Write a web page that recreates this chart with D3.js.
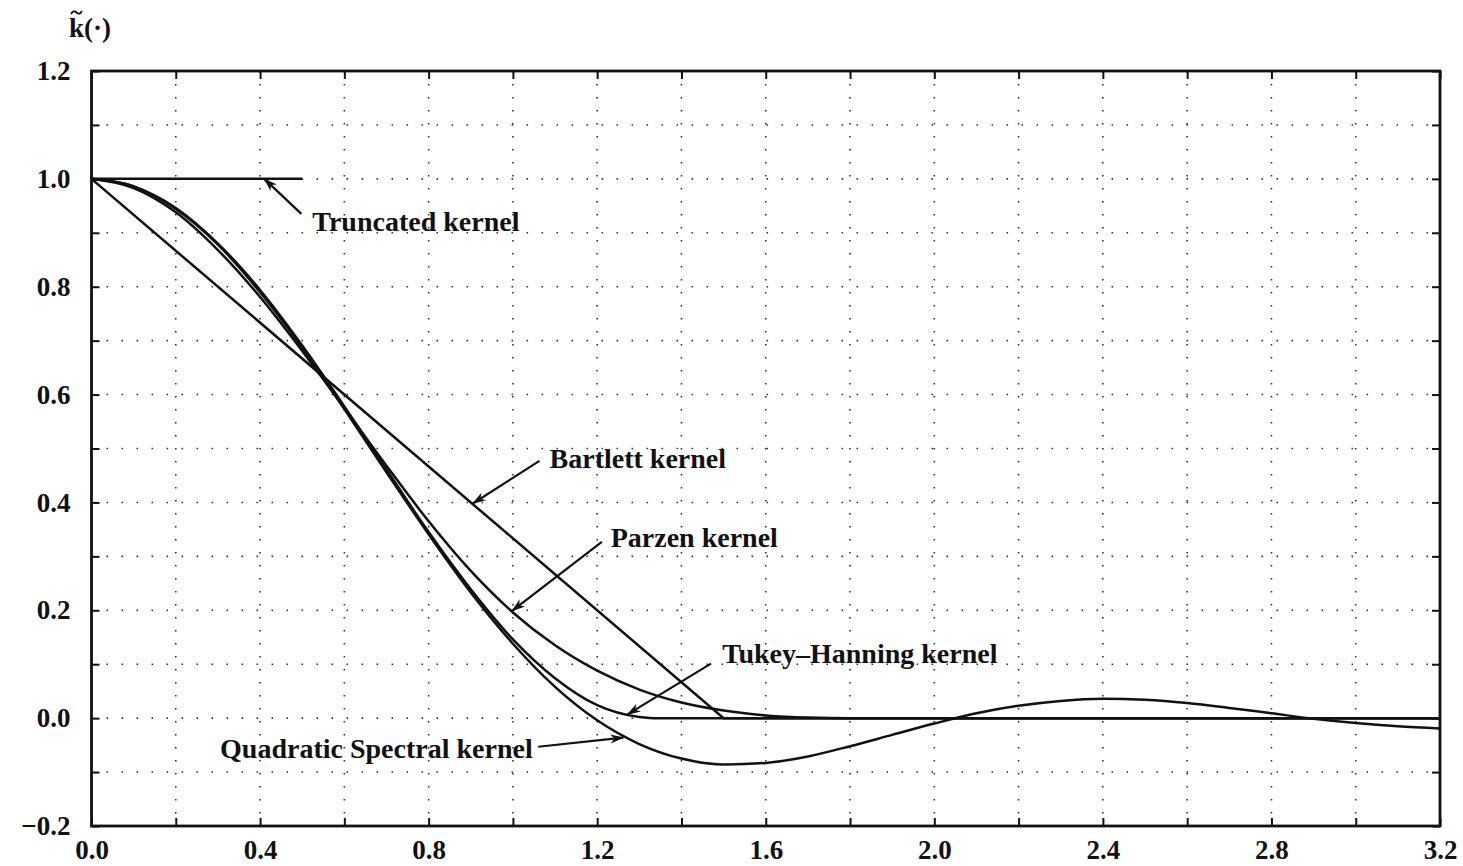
<!DOCTYPE html>
<html>
<head>
<meta charset="utf-8">
<script src="https://cdn.jsdelivr.net/npm/d3@7/dist/d3.min.js"></script>
<style>
body{margin:0;background:#fff;}
text{font-family:"Liberation Serif","Times New Roman",serif;font-weight:bold;fill:#111;}
</style>
</head>
<body>
<svg></svg>
<script>
// values
var qsX=[0,0.1,0.2,0.3,0.4,0.5,0.6,0.7,0.8,0.9,1.0,1.1,1.2,1.3,1.4,1.5,1.6,1.7,1.8,1.9,2.0,2.1,2.2,2.3,2.4,2.5,2.6,2.7,2.8,2.9,3.0,3.1,3.2];
var qsY=[1,0.986,0.944,0.878,0.790,0.687,0.573,0.456,0.341,0.233,0.138,0.058,-0.004,-0.048,-0.075,-0.086,-0.083,-0.071,-0.052,-0.031,-0.010,0.009,0.023,0.032,0.036,0.034,0.028,0.019,0.009,-0.001,-0.009,-0.015,-0.019];
var tukeyX=[0,0.1,0.2,0.3,0.4,0.5,0.6,0.7,0.8,0.9,1.0,1.1,1.2,1.3,1.333,3.2];
var tukeyY=[1,0.986,0.946,0.880,0.794,0.691,0.578,0.461,0.345,0.239,0.146,0.074,0.024,0.002,0,0];
var parzenX=[0,0.1,0.2,0.3,0.4,0.5,0.6,0.7,0.8,0.9,1.0,1.1,1.2,1.3,1.4,1.5,1.6,1.7,1.8,1.854,3.2];
var parzenY=[1,0.983,0.938,0.868,0.781,0.681,0.575,0.468,0.365,0.273,0.196,0.135,0.088,0.053,0.029,0.014,0.005,0.001,0,0,0];
var bartlettX=[0,1.5,3.2];
var bartlettY=[1,0,0];
var truncX=[0,0.5];
var truncY=[1,1];
var xTickValues=[0,0.2,0.4,0.6,0.8,1.0,1.2,1.4,1.6,1.8,2.0,2.2,2.4,2.6,2.8,3.0,3.2];
var xLabelValues=[0,0.4,0.8,1.2,1.6,2.0,2.4,2.8,3.2];
var yTickValues=[-0.2,-0.1,0,0.1,0.2,0.3,0.4,0.5,0.6,0.7,0.8,0.9,1.0,1.1,1.2];
var yLabelValues=[-0.2,0,0.2,0.4,0.6,0.8,1.0,1.2];

var w=1463;
var h=866;
var margin={top:71,bottom:40,left:91.5,right:23};

var xScale=d3.scaleLinear()
             .domain([0,3.2])
             .range([margin.left,w-margin.right]);
var yScale=d3.scaleLinear()
             .domain([-0.2,1.2])
             .range([h-margin.bottom,margin.top]);

var svg=d3.select("svg")
          .attr("width",w)
          .attr("height",h);

// arrow head
svg.append("defs").append("marker")
   .attr("id","head")
   .attr("viewBox","0 -5 14 10")
   .attr("refX",13)
   .attr("refY",0)
   .attr("markerWidth",14)
   .attr("markerHeight",10)
   .attr("markerUnits","userSpaceOnUse")
   .attr("orient","auto")
   .append("path")
   .attr("d","M0,-4.5L14,0L0,4.5L4,0Z")
   .attr("fill","#111");

// dotted grid
var fmt=d3.format(".1f");
svg.append("g")
   .selectAll("line")
   .data(xTickValues.slice(1,-1))
   .enter()
   .append("line")
   .attr("x1",function(d){return xScale(d);})
   .attr("x2",function(d){return xScale(d);})
   .attr("y1",yScale(1.2))
   .attr("y2",yScale(-0.2))
   .attr("stroke","#333")
   .attr("stroke-width",1.6)
   .attr("stroke-dasharray","1.6,11.4");
svg.append("g")
   .selectAll("line")
   .data(yTickValues.slice(1,-1))
   .enter()
   .append("line")
   .attr("x1",xScale(0))
   .attr("x2",xScale(3.2))
   .attr("y1",function(d){return yScale(d);})
   .attr("y2",function(d){return yScale(d);})
   .attr("stroke","#333")
   .attr("stroke-width",1.6)
   .attr("stroke-dasharray","1.6,13.4");

// axes with inward ticks
var isLabel=function(list){
  return function(d){
    return list.some(function(v){return Math.abs(v-d)<1e-6;})?fmt(d):"";
  };
};
var xAxis=d3.axisBottom(xScale)
            .tickValues(xTickValues)
            .tickSizeInner(-8)
            .tickSizeOuter(0)
            .tickPadding(14)
            .tickFormat(isLabel(xLabelValues));
var yAxis=d3.axisLeft(yScale)
            .tickValues(yTickValues)
            .tickSizeInner(-8)
            .tickSizeOuter(0)
            .tickPadding(21)
            .tickFormat(isLabel(yLabelValues));
svg.append("g")
   .attr("transform","translate(0,"+yScale(-0.2)+")")
   .call(xAxis);
svg.append("g")
   .attr("transform","translate("+xScale(0)+",0)")
   .call(yAxis);
svg.append("g")
   .attr("transform","translate(0,"+yScale(1.2)+")")
   .call(d3.axisTop(xScale).tickValues(xTickValues).tickSizeInner(-8).tickSizeOuter(0).tickFormat(""));
svg.append("g")
   .attr("transform","translate("+xScale(3.2)+",0)")
   .call(d3.axisRight(yScale).tickValues(yTickValues).tickSizeInner(-8).tickSizeOuter(0).tickFormat(""));
svg.selectAll(".domain").remove();
svg.selectAll(".tick line").attr("stroke","#111").attr("stroke-width",2);
svg.selectAll(".tick text")
   .attr("font-family","Liberation Serif, serif")
   .attr("font-size",27)
   .attr("font-weight","bold")
   .attr("fill","#111");

// frame
svg.append("rect")
   .attr("x",xScale(0))
   .attr("y",yScale(1.2))
   .attr("width",xScale(3.2)-xScale(0))
   .attr("height",yScale(-0.2)-yScale(1.2))
   .attr("fill","none")
   .attr("stroke","#111")
   .attr("stroke-width",2.8);

// kernels
var kernels=[
  {name:"truncated",x:truncX,y:truncY,curve:d3.curveLinear},
  {name:"bartlett",x:bartlettX,y:bartlettY,curve:d3.curveLinear},
  {name:"parzen",x:parzenX,y:parzenY,curve:d3.curveMonotoneX},
  {name:"tukey",x:tukeyX,y:tukeyY,curve:d3.curveMonotoneX},
  {name:"qs",x:qsX,y:qsY,curve:d3.curveMonotoneX}
];
svg.append("g")
   .selectAll("path")
   .data(kernels)
   .enter()
   .append("path")
   .attr("d",function(k){
     var line=d3.line()
                .x(function(d){return xScale(d[0]);})
                .y(function(d){return yScale(d[1]);})
                .curve(k.curve);
     return line(k.x.map(function(v,i){return [v,k.y[i]];}));
   })
   .attr("fill","none")
   .attr("stroke","#111")
   .attr("stroke-width",2.5);

// annotations: tip on the curve, tail and text position (data units)
var notes=[
  {text:"Truncated kernel",tip:[0.41,1.0],tail:[0.498,0.935],at:[0.524,0.903],anchor:"start"},
  {text:"Bartlett kernel",tip:[0.905,0.398],tail:[1.063,0.477],at:[1.087,0.464],anchor:"start"},
  {text:"Parzen kernel",tip:[0.998,0.199],tail:[1.211,0.327],at:[1.232,0.318],anchor:"start"},
  {text:"Tukey\u2013Hanning kernel",tip:[1.272,0.007],tail:[1.470,0.101],at:[1.497,0.102],anchor:"start"},
  {text:"Quadratic Spectral kernel",tip:[1.262,-0.036],tail:[1.060,-0.053],at:[1.047,-0.074],anchor:"end"}
];
var ann=svg.append("g");
ann.selectAll("line")
   .data(notes)
   .enter()
   .append("line")
   .attr("x1",function(d){return xScale(d.tail[0]);})
   .attr("y1",function(d){return yScale(d.tail[1]);})
   .attr("x2",function(d){return xScale(d.tip[0]);})
   .attr("y2",function(d){return yScale(d.tip[1]);})
   .attr("stroke","#111")
   .attr("stroke-width",2.2)
   .attr("marker-end","url(#head)");
ann.selectAll("text")
   .data(notes)
   .enter()
   .append("text")
   .attr("x",function(d){return xScale(d.at[0]);})
   .attr("y",function(d){return yScale(d.at[1]);})
   .attr("text-anchor",function(d){return d.anchor;})
   .attr("font-size",28)
   .text(function(d){return d.text;});

// y axis title k~(.) ; the tilde is drawn as a small path over the k
svg.append("text")
   .attr("x",69)
   .attr("y",37)
   .attr("font-size",27)
   .text("k(\u00b7)");
svg.append("path")
   .attr("d","M71,14 Q73.5,9.5 76.5,12.5 Q79.5,15.5 82,11")
   .attr("fill","none")
   .attr("stroke","#111")
   .attr("stroke-width",1.8);
</script>
</body>
</html>
